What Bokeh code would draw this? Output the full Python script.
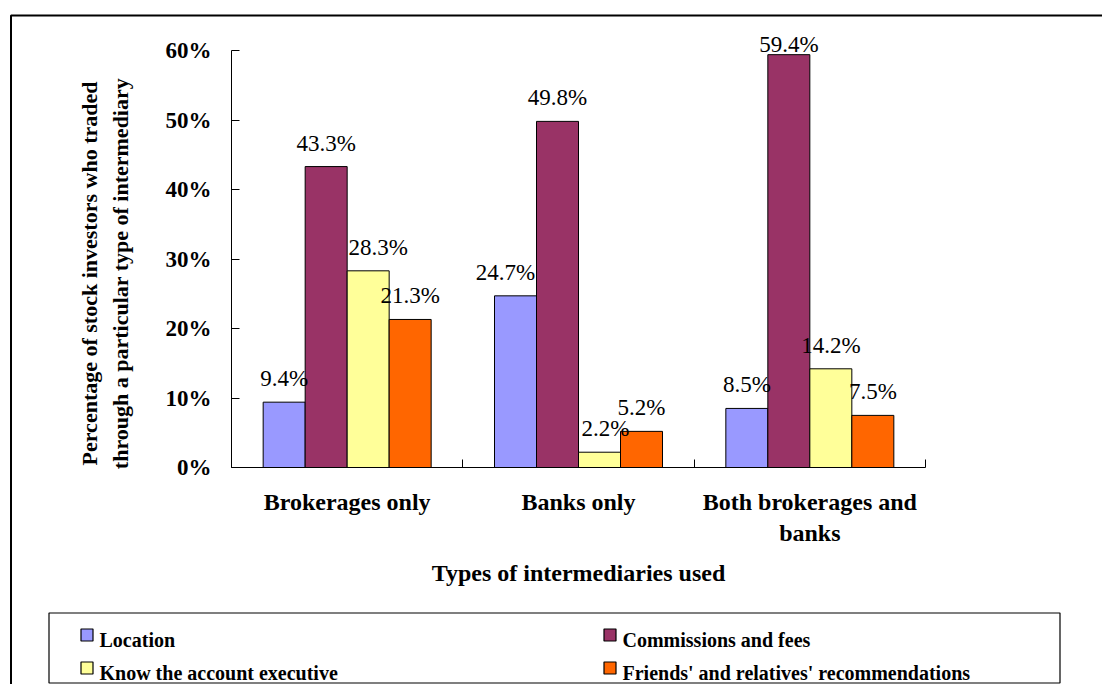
from math import pi
from bokeh.plotting import figure
from bokeh.models import (Range1d, LinearAxis, FixedTicker, PrintfTickFormatter,
                          ColumnDataSource, LabelSet, Label, BoxAnnotation)
from bokeh.core.properties import value
from bokeh.transform import dodge
from bokeh.embed import file_html
from bokeh.resources import INLINE

# ---------------- data ----------------
categories = ["Brokerages only", "Banks only", "Both brokerages and banks"]
series = ["Location", "Commissions and fees", "Know the account executive",
          "Friends' and relatives' recommendations"]
location = [9.4, 24.7, 8.5]
commissions = [43.3, 49.8, 59.4]
know_executive = [28.3, 2.2, 14.2]
friends_relatives = [21.3, 5.2, 7.5]
y_ticks = [0, 10, 20, 30, 40, 50, 60]
x_title = "Types of intermediaries used"
y_title = ["Percentage of stock investors who traded",
           "through a particular type of intermediary"]

# ---------------- style / layout ----------------
colors = ["#9999FF", "#993366", "#FFFF99", "#FF6600"]
category_wrap = {"Both brokerages and banks": "Both brokerages and\nbanks"}
label_nudge_x = [[0, -10, 0], [0, 0, 0], [10, 6, 0], [0, 0, 0]]      # px tweaks of value labels
label_gap_y = [[16, 16, 16], [16, 16, 3], [16, 16, 16], [16, 16, 16]]  # px above bar top
SERIF = "Liberation Serif"
W, H = 1102, 684
PLOT_L, PLOT_R, PLOT_T, PLOT_B = 231, 925, 50, 467   # plot-area box in pixels
BAR_PX = 42

values = [location, commissions, know_executive, friends_relatives]
ncat = len(categories)
ymax = y_ticks[-1]
sx = (PLOT_R - PLOT_L) / ncat
sy = (PLOT_B - PLOT_T) / ymax


def dx(px):
    return (px - PLOT_L) / sx


def dy(py):
    return (PLOT_B - py) / sy


p = figure(width=W, height=H,
           x_range=Range1d(dx(0), dx(W)), y_range=Range1d(dy(H), dy(0)),
           output_backend="svg", toolbar_location=None,
           x_axis_location=None, y_axis_location=None,
           min_border=0, min_border_left=0, min_border_right=0,
           min_border_top=0, min_border_bottom=0)
p.grid.visible = False
p.outline_line_color = None
p.background_fill_color = "white"
p.border_fill_color = "white"

# ---------- y axis ----------
yaxis = LinearAxis(fixed_location=0, bounds=(0, ymax),
                   ticker=FixedTicker(ticks=y_ticks),
                   formatter=PrintfTickFormatter(format="%d%%"),
                   major_tick_in=8, major_tick_out=0, minor_tick_line_color=None,
                   axis_line_color="black", major_tick_line_color="black",
                   major_label_standoff=20,
                   major_label_text_font=SERIF, major_label_text_font_style="bold",
                   major_label_text_font_size="23px", major_label_text_color="black")
p.add_layout(yaxis, "left")

# ---------- x axis (category labels at centres, tick marks at boundaries) ----------
xc = [k + 0.5 for k in range(ncat)]
xaxis = LinearAxis(fixed_location=0, bounds=(0, ncat),
                   ticker=FixedTicker(ticks=xc, minor_ticks=list(range(ncat + 1))),
                   major_label_overrides={c: category_wrap.get(name, name)
                                          for c, name in zip(xc, categories)},
                   major_tick_in=0, major_tick_out=0, major_tick_line_color=None,
                   minor_tick_in=8, minor_tick_out=0, minor_tick_line_color="black",
                   axis_line_color="black",
                   major_label_standoff=21,
                   major_label_text_font=SERIF, major_label_text_font_style="bold",
                   major_label_text_font_size="24px", major_label_text_color="black",
                   major_label_text_line_height=1.2,
                   axis_label=x_title, axis_label_standoff=11,
                   axis_label_text_font=SERIF, axis_label_text_font_style="bold",
                   axis_label_text_font_size="24px", axis_label_text_color="black")
p.add_layout(xaxis, "below")

# ---------- bars + value labels ----------
data = {"xc": xc}
for i, vals in enumerate(values):
    data[f"v{i}"] = vals
    data[f"t{i}"] = [f"{v:.1f}%" for v in vals]
    data[f"dx{i}"] = label_nudge_x[i]
    data[f"dy{i}"] = label_gap_y[i]
src = ColumnDataSource(data)

n = len(series)
bw = BAR_PX / sx
for i in range(n):
    off = (i - (n - 1) / 2) * bw
    p.vbar(x=dodge("xc", off), top=f"v{i}", width=bw, source=src,
           fill_color=colors[i], line_color="black", line_width=1)
    p.add_layout(LabelSet(x=dodge("xc", off), y=f"v{i}", text=f"t{i}",
                          x_offset=f"dx{i}", y_offset=f"dy{i}", source=src,
                          text_align="center", text_baseline="alphabetic",
                          text_font=value(SERIF), text_font_size=value("23px"),
                          text_color="black"))

# ---------- y axis title (two lines) ----------
for line, xpx in zip(y_title, [89, 120]):
    p.add_layout(Label(x=dx(xpx), y=dy(273), text=line, angle=pi / 2,
                       text_align="center", text_baseline="middle",
                       text_font=SERIF, text_font_style="bold", text_font_size="22px",
                       text_color="black"))

# ---------- outer chart border ----------
p.add_layout(BoxAnnotation(left=dx(10.5), top=dy(15), right=dx(W + 30), bottom=dy(H + 30),
                           fill_color=None, fill_alpha=0,
                           line_color="black", line_alpha=1, line_dash="solid", line_width=2))

# ---------- legend ----------
p.add_layout(BoxAnnotation(left=dx(48.5), top=dy(612.5), right=dx(1059.5), bottom=dy(682.5),
                           fill_color="white", fill_alpha=1,
                           line_color="black", line_alpha=1, line_dash="solid",
                           line_width=1.2))
col_x = [80, 603]
row_y = [628, 661]
for i, name in enumerate(series):
    c, r = i % 2, i // 2
    x0, y0 = col_x[c], row_y[r]
    p.add_layout(BoxAnnotation(left=dx(x0 + 0.5), top=dy(y0 + 0.5),
                               right=dx(x0 + 12.5), bottom=dy(y0 + 12.5),
                               fill_color=colors[i], fill_alpha=1,
                               line_color="black", line_alpha=1, line_dash="solid",
                               line_width=1.2))
    p.add_layout(Label(x=dx(x0 + 19), y=dy(y0 + 11.5), text=name,
                       text_align="left", text_baseline="alphabetic",
                       text_font=SERIF, text_font_style="bold", text_font_size="20px",
                       text_color="black"))

open("out.html", "w").write(file_html(p, INLINE))
